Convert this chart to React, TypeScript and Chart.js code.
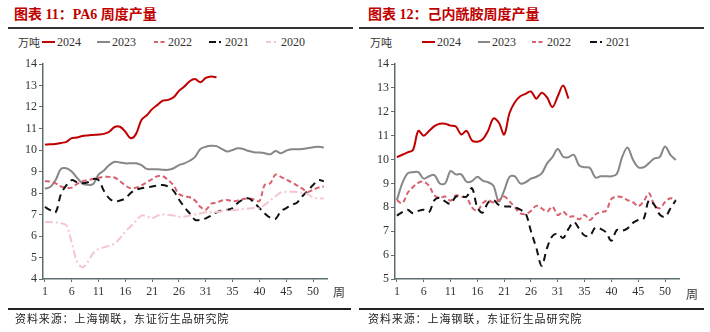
import React, { useEffect, useRef } from "react";
import { Chart, registerables } from "chart.js";
Chart.register(...registerables);

// category labels (week numbers as printed on the axis)
const weeks = [
  "1","2","3","4","5","6","7","8","9","10","11","12","13","14","15","16","17","18","19","20",
  "21","22","23","24","25","26","27","28","29","30","31","32","33","33","34","35","36","37","38","39",
  "40","41","42","43","44","45","46","47","48","49","50","51","52",
];
const tickIdx = [0, 5, 10, 15, 20, 25, 30, 35, 40, 45, 50];

// PA6 weekly output (万吨)
const pa6_2024 = [10.25,10.27,10.28,10.33,10.38,10.55,10.58,10.65,10.68,10.7,10.72,10.75,10.85,11.07,11.08,10.85,10.55,10.75,11.4,11.62,11.9,12.1,12.3,12.33,12.45,12.75,12.95,13.2,13.3,13.15,13.35,13.42,13.38];
const pa6_2023 = [8.2,8.28,8.6,9.12,9.15,9.0,8.7,8.45,8.38,8.42,8.85,9.05,9.3,9.45,9.42,9.38,9.38,9.38,9.3,9.12,9.1,9.1,9.08,9.08,9.15,9.3,9.38,9.5,9.68,10.05,10.15,10.2,10.18,10.05,9.93,10.0,10.08,10.05,9.95,9.9,9.88,9.85,9.8,9.95,9.85,9.97,10.03,10.03,10.05,10.08,10.13,10.15,10.12];
const pa6_2022 = [8.55,8.53,8.45,8.3,8.25,8.25,8.42,8.55,8.6,8.65,8.7,8.75,8.75,8.72,8.55,8.35,8.22,8.25,8.35,8.5,8.65,8.78,8.78,8.6,8.35,7.95,7.85,7.8,7.65,7.35,7.22,7.5,7.55,7.65,7.68,7.62,7.65,7.72,7.75,7.7,7.62,8.38,8.45,8.85,8.75,8.62,8.5,8.35,8.2,8.05,8.15,8.25,8.3];
const pa6_2021 = [7.35,7.2,7.1,7.95,8.35,8.6,8.5,8.45,8.5,8.65,8.6,8.1,7.75,7.6,7.65,7.75,8.0,8.15,8.22,8.27,8.3,8.35,8.37,8.3,8.1,7.7,7.35,7.05,6.75,6.75,6.82,6.95,7.1,7.2,7.22,7.3,7.55,7.7,7.75,7.55,7.3,7.05,6.85,6.8,7.15,7.3,7.45,7.55,7.85,8.1,8.37,8.6,8.55];
const pa6_2020 = [6.65,6.65,6.63,6.6,6.5,5.7,4.8,4.55,4.8,5.2,5.4,5.47,5.55,5.65,5.9,6.2,6.45,6.7,6.95,6.92,6.82,6.95,7.0,6.98,6.95,6.9,6.9,6.95,7.0,7.05,7.1,7.1,7.12,7.15,7.2,7.2,7.22,7.25,7.28,7.3,7.3,7.45,7.65,7.85,8.03,8.06,8.06,8.05,8.0,7.95,7.8,7.75,7.75];

// Caprolactam weekly output (万吨)
const cpl_2024 = [10.1,10.2,10.3,10.4,11.2,11.0,11.2,11.4,11.5,11.5,11.42,11.38,11.05,11.2,10.8,10.75,10.85,11.2,11.72,11.55,11.05,11.95,12.4,12.65,12.75,12.85,12.55,12.8,12.6,12.2,12.65,13.1,12.55];
const cpl_2023 = [8.3,9.0,9.42,9.47,9.47,9.2,9.3,9.35,9.0,9.0,9.52,9.38,9.38,9.07,9.1,9.28,9.12,9.05,8.9,8.25,8.7,9.28,9.3,9.0,9.05,9.2,9.28,9.42,9.84,10.1,10.44,10.12,10.1,10.2,9.75,9.68,9.65,9.25,9.3,9.3,9.3,9.4,10.1,10.5,10.0,9.68,9.68,9.85,10.05,10.1,10.55,10.2,9.98];
const cpl_2022 = [8.3,8.17,8.6,8.85,9.03,9.07,8.9,8.5,8.4,8.45,8.28,8.5,8.45,8.4,8.0,7.85,8.17,8.3,8.2,8.3,8.45,8.25,8.0,7.75,7.72,7.85,8.06,7.96,7.82,8.03,7.68,7.82,7.62,7.62,7.5,7.68,7.47,7.7,7.8,7.85,8.35,8.45,8.42,8.3,8.22,8.05,8.25,8.59,8.1,7.96,8.22,8.38,8.3];
const cpl_2021 = [7.65,7.8,7.9,7.75,7.85,7.9,7.8,8.3,8.4,8.25,8.15,8.45,8.45,8.45,8.8,8.0,7.78,8.2,8.3,8.1,8.05,8.03,8.0,7.9,7.75,7.0,6.3,5.55,6.3,6.8,6.9,6.72,7.1,7.38,7.1,6.82,6.82,7.15,7.1,6.95,6.6,7.05,7.02,7.12,7.35,7.47,7.52,8.3,8.1,7.7,7.6,7.95,8.3];

const C2024 = "#C00000";
const C2023 = "#878787";
const C2022 = "#D9606E";
const C2021 = "#111111";
const C2020 = "#F5C6CD";
const AXIS = "#5C6E6E";
const SERIF = '"Liberation Serif", "Times New Roman", serif';
const CJK = '"Noto Sans CJK SC", sans-serif';

type Series = { label: string; data: number[]; color: string; dash: number[] };

const pa6Series: Series[] = [
  { label: "2020", data: pa6_2020, color: C2020, dash: [8, 3, 2, 3] },
  { label: "2021", data: pa6_2021, color: C2021, dash: [7, 5] },
  { label: "2022", data: pa6_2022, color: C2022, dash: [5, 3] },
  { label: "2023", data: pa6_2023, color: C2023, dash: [] },
  { label: "2024", data: pa6_2024, color: C2024, dash: [] },
];
const cplSeries: Series[] = [
  { label: "2021", data: cpl_2021, color: C2021, dash: [7, 5] },
  { label: "2022", data: cpl_2022, color: C2022, dash: [5, 3] },
  { label: "2023", data: cpl_2023, color: C2023, dash: [] },
  { label: "2024", data: cpl_2024, color: C2024, dash: [] },
];

function LineChart(props: { left: number; series: Series[]; yMin: number; yMax: number; yWidth: number; rightPad: number }) {
  const ref = useRef<HTMLCanvasElement>(null);
  useEffect(() => {
    const chart = new Chart(ref.current as HTMLCanvasElement, {
      type: "line",
      data: {
        datasets: props.series.map((s) => ({
          label: s.label,
          data: s.data.map((v, i) => ({ x: i, y: v })),
          borderColor: s.color,
          backgroundColor: s.color,
          borderWidth: 2,
          borderDash: s.dash,
          pointRadius: 0,
          tension: 0.35,
          fill: false,
        })),
      },
      options: {
        animation: false,
        responsive: false,
        events: [],
        layout: { padding: { top: 14, right: props.rightPad, bottom: 6, left: 0 } },
        plugins: { legend: { display: false }, tooltip: { enabled: false } },
        scales: {
          x: {
            type: "linear",
            min: -0.35,
            max: 52.6,
            afterBuildTicks: (a: any) => {
              a.ticks = tickIdx.map((v) => ({ value: v }));
            },
            afterFit: (s: any) => {
              s.height = 25;
            },
            grid: { drawOnChartArea: false, drawTicks: true, tickLength: 3, color: AXIS, lineWidth: 1 },
            border: { display: true, color: AXIS, width: 1.5 },
            ticks: {
              autoSkip: false,
              maxRotation: 0,
              padding: 3,
              color: "#333",
              font: { family: SERIF, size: 12 },
              callback: (v: any) => weeks[Number(v)],
            },
          },
          y: {
            min: props.yMin,
            max: props.yMax,
            afterFit: (s: any) => {
              s.width = props.yWidth;
            },
            grid: { drawOnChartArea: false, drawTicks: true, tickLength: 4, color: AXIS, lineWidth: 1 },
            border: { display: true, color: AXIS, width: 1.5 },
            ticks: { stepSize: 1, padding: 2, color: "#333", font: { family: SERIF, size: 12 } },
          },
        },
      },
    } as any);
    return () => chart.destroy();
  }, []);
  return (
    <canvas
      ref={ref}
      width={355}
      height={260}
      style={{ position: "absolute", left: props.left, top: 50, width: 355, height: 260 }}
    />
  );
}

function LegendItem(props: { x: number; w: number; color: string; dash: string; text: string }) {
  return (
    <>
      <svg width={props.w} height={6} style={{ position: "absolute", left: props.x, top: 39 }}>
        <line x1={0} y1={3} x2={props.w} y2={3} stroke={props.color} strokeWidth={2} strokeDasharray={props.dash} />
      </svg>
      <span
        style={{
          position: "absolute",
          left: props.x + props.w + 2,
          top: 35,
          fontFamily: SERIF,
          fontSize: 12,
          lineHeight: "14px",
          color: "#333",
        }}
      >
        {props.text}
      </span>
    </>
  );
}

const textAbs = (x: number, y: number, extra: any) => ({ position: "absolute" as const, left: x, top: y, whiteSpace: "nowrap" as const, ...extra });

export default function App() {
  const titleStyle = { fontFamily: '"Liberation Serif", "Noto Sans CJK SC", serif', fontWeight: 700, fontSize: 14, color: "#C00000", lineHeight: "16px" };
  const srcStyle = { fontFamily: CJK, fontSize: 11, color: "#222", lineHeight: "13px", letterSpacing: "0.9px" };
  const unitStyle = { fontFamily: CJK, fontSize: 11, color: "#333", lineHeight: "14px" };
  return (
    <div style={{ position: "absolute", left: 0, top: 0, width: 710, height: 332, background: "#fff", overflow: "hidden" }}>
      {/* left panel */}
      <div style={textAbs(14, 7, titleStyle)}>图表 11：PA6 周度产量</div>
      <div style={{ position: "absolute", left: 8, top: 27, width: 345, height: 2, background: "#333" }} />
      <div style={textAbs(18, 35, unitStyle)}>万吨</div>
      <LegendItem x={42} w={13} color={C2024} dash="" text="2024" />
      <LegendItem x={97} w={13} color={C2023} dash="" text="2023" />
      <LegendItem x={154} w={12} color={C2022} dash="4 2.5" text="2022" />
      <LegendItem x={209} w={14} color={C2021} dash="7 3 2 3" text="2021" />
      <LegendItem x={266} w={13} color={C2020} dash="5 3 2 3" text="2020" />
      <LineChart left={0} series={pa6Series} yMin={4} yMax={14} yWidth={43} rightPad={28} />
      <div style={textAbs(333, 283, { fontFamily: CJK, fontSize: 12, color: "#333" })}>周</div>
      <div style={{ position: "absolute", left: 8, top: 308, width: 343, height: 2, background: "#222" }} />
      <div style={textAbs(15, 312, srcStyle)}>资料来源：上海钢联，东证衍生品研究院</div>

      {/* right panel */}
      <div style={textAbs(368, 7, titleStyle)}>图表 12：己内酰胺周度产量</div>
      <div style={{ position: "absolute", left: 359, top: 27, width: 345, height: 2, background: "#333" }} />
      <div style={textAbs(370, 35, unitStyle)}>万吨</div>
      <LegendItem x={422} w={13} color={C2024} dash="" text="2024" />
      <LegendItem x={478} w={12} color={C2023} dash="" text="2023" />
      <LegendItem x={532} w={13} color={C2022} dash="4 2.5" text="2022" />
      <LegendItem x={590} w={14} color={C2021} dash="7 3 2 3" text="2021" />
      <LineChart left={355} series={cplSeries} yMin={5} yMax={14} yWidth={40} rightPad={31} />
      <div style={textAbs(686, 285, { fontFamily: CJK, fontSize: 12, color: "#333" })}>周</div>
      <div style={{ position: "absolute", left: 359, top: 308, width: 345, height: 2, background: "#222" }} />
      <div style={textAbs(368, 312, srcStyle)}>资料来源：上海钢联，东证衍生品研究院</div>
    </div>
  );
}
